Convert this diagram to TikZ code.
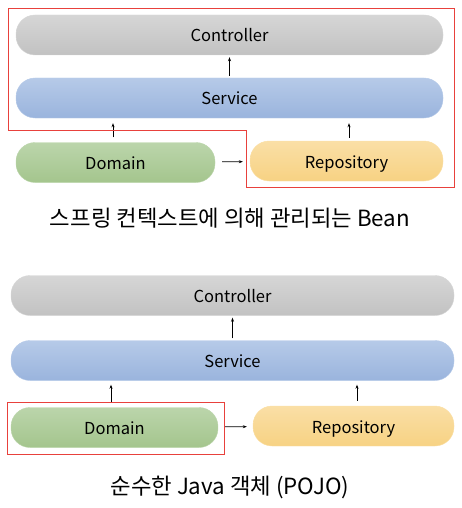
\documentclass[tikz,border=0pt]{standalone}
\usepackage{fontspec}
\setmainfont{Noto Sans CJK KR}
\usetikzlibrary{arrows.meta}
\definecolor{lgrayA}{HTML}{D6D6D6}
\definecolor{lgrayB}{HTML}{C2C2C2}
\definecolor{lblueA}{HTML}{B6CAE8}
\definecolor{lblueB}{HTML}{9AB4DD}
\definecolor{lgreenA}{HTML}{BBD5AB}
\definecolor{lgreenB}{HTML}{A4C58D}
\definecolor{lyellowA}{HTML}{FADFA6}
\definecolor{lyellowB}{HTML}{F7D283}
\definecolor{lred}{HTML}{E8413C}
\tikzset{
  layer/.style={rounded corners=19pt, minimum height=40pt, inner sep=0pt,
    text height=14pt, text depth=0pt,
    draw=#1, line width=0.4pt, font=\fontsize{16.5}{20}\selectfont},
  gray layer/.style={layer=lgrayA, top color=lgrayA, bottom color=lgrayB},
  blue layer/.style={layer=lblueA, top color=lblueA, bottom color=lblueB},
  green layer/.style={layer=lgreenA, top color=lgreenA, bottom color=lgreenB},
  yellow layer/.style={layer=lyellowA, top color=lyellowA, bottom color=lyellowB},
  dep/.style={-{Stealth[length=4pt,width=3pt]}, line width=0.7pt},
  frame/.style={draw=lred, line width=1pt},
  caption/.style={font=\fontsize{22.3}{26}\selectfont}
}
\begin{document}
\begin{tikzpicture}[x=1pt,y=-1pt]
  \useasboundingbox (0,0) rectangle (461,508);
  \draw
    (229.5,35) node[gray layer, minimum width=427pt] (ctrl1){Controller}
    (229.5,98) node[blue layer, minimum width=427pt] (serv1){Service}
    (115.5,162.5) node[green layer, minimum width=199pt] (dom1){Domain}
    (346.5,161) node[yellow layer, minimum width=193pt] (repo1){Repository}
    (230,218) node[caption] (cap1){스프링 컨텍스트에 의해 관리되는 Bean};
  \draw
    (232.5,295.5) node[gray layer, minimum width=443pt] (ctrl2){Controller}
    (232.5,360.5) node[blue layer, minimum width=443pt] (serv2){Service}
    (114.5,427.5) node[green layer, minimum width=207pt] (dom2){Domain}
    (353.5,426) node[yellow layer, minimum width=201pt] (repo2){Repository}
    (230,487) node[caption] (cap2){순수한 Java 객체 (POJO)};
  \begin{scope}[dep]
    \draw[shorten <=2pt, shorten >=2pt] (serv1) to (ctrl1);
    \draw[shorten <=5pt, shorten >=5pt] (dom1.north -| 113,0) to (serv1.south -| 113,0);
    \draw[shorten <=3pt, shorten >=5pt] (repo1.north -| 349,0) to (serv1.south -| 349,0);
    \draw[shorten <=7pt, shorten >=7pt] (dom1) to (repo1);
    \draw[shorten <=2pt, shorten >=2pt] (serv2) to (ctrl2);
    \draw[shorten <=5pt, shorten >=4pt] (dom2.north -| 111,0) to (serv2.south -| 111,0);
    \draw[shorten <=5pt, shorten >=4pt] (repo2.north -| 357,0) to (serv2.south -| 357,0);
    \draw[shorten <=7pt, shorten >=6pt] (dom2) to (repo2);
  \end{scope}
  \draw[frame] (8,9) -- (454,9) -- (454,187) -- (246,187) -- (246,130) -- (8,130) -- cycle;
  \draw[frame] (7,402) rectangle (224,454);
\end{tikzpicture}
\end{document}
